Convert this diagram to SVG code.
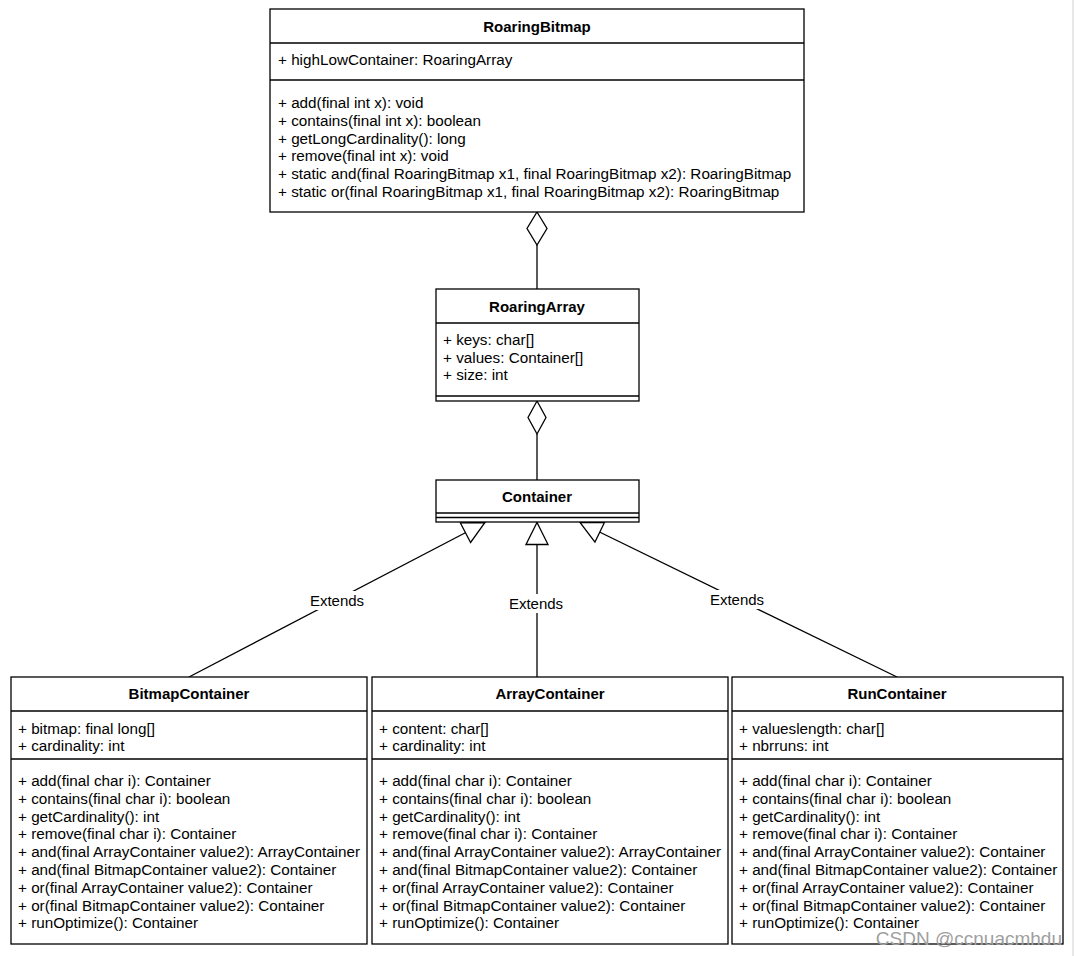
<svg xmlns="http://www.w3.org/2000/svg" width="1075" height="956" viewBox="0 0 1075 956">
<style>
.box{fill:#fff;stroke:#000;stroke-width:1.3}
.sep{stroke:#000;stroke-width:1.3;fill:none}
.t{font-family:"Liberation Sans",Arial,sans-serif;font-size:15.25px;fill:#000}
.b{font-weight:bold;text-anchor:middle;font-size:15px}
.conn{stroke:#000;stroke-width:1.3;fill:none}
.lbl{font-family:"Liberation Sans",Arial,sans-serif;font-size:15px;fill:#000;text-anchor:middle}
</style>
<defs>
<marker id="tri" markerUnits="userSpaceOnUse" markerWidth="26" markerHeight="26" viewBox="0 0 26 26" refX="24" refY="13" orient="auto">
<path d="M2,2 L24,13 L2,24 Z" fill="#fff" stroke="#000" stroke-width="1.3"/>
</marker>
</defs>
<rect width="1075" height="956" fill="#fff"/>
<line x1="1073" y1="0" x2="1073" y2="956" stroke="#d0d0d0" stroke-width="1"/>

<g id="connectors">
<line class="conn" x1="537" y1="245" x2="537" y2="289"/>
<polygon points="537,212 547,228.5 537,245 527,228.5" fill="#fff" stroke="#000" stroke-width="1.3"/>
<line class="conn" x1="537" y1="434" x2="537" y2="480"/>
<polygon points="537,401 546,417.5 537,434 528,417.5" fill="#fff" stroke="#000" stroke-width="1.3"/>
<path class="conn" d="M189,677 L485,522.5" marker-end="url(#tri)"/>
<path class="conn" d="M537,677 L537,522.5" marker-end="url(#tri)"/>
<path class="conn" d="M897,677 L580,522.5" marker-end="url(#tri)"/>
<rect x="308" y="591" width="58" height="19" fill="#fff"/>
<text class="lbl" x="337" y="606">Extends</text>
<rect x="507" y="594" width="58" height="19" fill="#fff"/>
<text class="lbl" x="536" y="609">Extends</text>
<rect x="708" y="590" width="58" height="19" fill="#fff"/>
<text class="lbl" x="737" y="605">Extends</text>
</g>

<g id="RoaringBitmap">
<rect class="box" x="270" y="9" width="534" height="203"/>
<line class="sep" x1="270" y1="43" x2="804" y2="43"/>
<line class="sep" x1="270" y1="80" x2="804" y2="80"/>
<text class="t b" x="537" y="32">RoaringBitmap</text>
<text class="t" x="278" y="65">+ highLowContainer: RoaringArray</text>
<text class="t" x="278" y="108">+ add(final int x): void</text>
<text class="t" x="278" y="126">+ contains(final int x): boolean</text>
<text class="t" x="278" y="144">+ getLongCardinality(): long</text>
<text class="t" x="278" y="161">+ remove(final int x): void</text>
<text class="t" x="278" y="179">+ static and(final RoaringBitmap x1, final RoaringBitmap x2): RoaringBitmap</text>
<text class="t" x="278" y="197">+ static or(final RoaringBitmap x1, final RoaringBitmap x2): RoaringBitmap</text>
</g>

<g id="RoaringArray">
<rect class="box" x="436" y="289" width="203" height="112"/>
<line class="sep" x1="436" y1="323" x2="639" y2="323"/>
<line class="sep" x1="436" y1="396" x2="639" y2="396"/>
<text class="t b" x="537" y="312">RoaringArray</text>
<text class="t" x="443" y="345">+ keys: char[]</text>
<text class="t" x="443" y="363">+ values: Container[]</text>
<text class="t" x="443" y="380">+ size: int</text>
</g>

<g id="Container">
<rect class="box" x="436" y="480" width="203" height="42"/>
<line class="sep" x1="436" y1="513" x2="639" y2="513"/>
<line class="sep" x1="436" y1="517.5" x2="639" y2="517.5"/>
<text class="t b" x="537" y="502">Container</text>
</g>

<g id="BitmapContainer">
<rect class="box" x="11" y="677" width="356" height="267"/>
<line class="sep" x1="11" y1="711" x2="367" y2="711"/>
<line class="sep" x1="11" y1="759" x2="367" y2="759"/>
<text class="t b" x="189" y="699">BitmapContainer</text>
<text class="t" x="18" y="734">+ bitmap: final long[]</text>
<text class="t" x="18" y="751">+ cardinality: int</text>
<text class="t" x="18" y="786">+ add(final char i): Container</text>
<text class="t" x="18" y="804">+ contains(final char i): boolean</text>
<text class="t" x="18" y="822">+ getCardinality(): int</text>
<text class="t" x="18" y="839">+ remove(final char i): Container</text>
<text class="t" x="18" y="857">+ and(final ArrayContainer value2): ArrayContainer</text>
<text class="t" x="18" y="875">+ and(final BitmapContainer value2): Container</text>
<text class="t" x="18" y="893">+ or(final ArrayContainer value2): Container</text>
<text class="t" x="18" y="911">+ or(final BitmapContainer value2): Container</text>
<text class="t" x="18" y="928">+ runOptimize(): Container</text>
</g>

<g id="ArrayContainer">
<rect class="box" x="372" y="677" width="356" height="267"/>
<line class="sep" x1="372" y1="711" x2="728" y2="711"/>
<line class="sep" x1="372" y1="759" x2="728" y2="759"/>
<text class="t b" x="550" y="699">ArrayContainer</text>
<text class="t" x="379" y="734">+ content: char[]</text>
<text class="t" x="379" y="751">+ cardinality: int</text>
<text class="t" x="379" y="786">+ add(final char i): Container</text>
<text class="t" x="379" y="804">+ contains(final char i): boolean</text>
<text class="t" x="379" y="822">+ getCardinality(): int</text>
<text class="t" x="379" y="839">+ remove(final char i): Container</text>
<text class="t" x="379" y="857">+ and(final ArrayContainer value2): ArrayContainer</text>
<text class="t" x="379" y="875">+ and(final BitmapContainer value2): Container</text>
<text class="t" x="379" y="893">+ or(final ArrayContainer value2): Container</text>
<text class="t" x="379" y="911">+ or(final BitmapContainer value2): Container</text>
<text class="t" x="379" y="928">+ runOptimize(): Container</text>
</g>

<g id="RunContainer">
<rect class="box" x="732" y="677" width="331" height="267"/>
<line class="sep" x1="732" y1="711" x2="1063" y2="711"/>
<line class="sep" x1="732" y1="759" x2="1063" y2="759"/>
<text class="t b" x="897" y="699">RunContainer</text>
<text class="t" x="739" y="734">+ valueslength: char[]</text>
<text class="t" x="739" y="751">+ nbrruns: int</text>
<text class="t" x="739" y="786">+ add(final char i): Container</text>
<text class="t" x="739" y="804">+ contains(final char i): boolean</text>
<text class="t" x="739" y="822">+ getCardinality(): int</text>
<text class="t" x="739" y="839">+ remove(final char i): Container</text>
<text class="t" x="739" y="857">+ and(final ArrayContainer value2): Container</text>
<text class="t" x="739" y="875">+ and(final BitmapContainer value2): Container</text>
<text class="t" x="739" y="893">+ or(final ArrayContainer value2): Container</text>
<text class="t" x="739" y="911">+ or(final BitmapContainer value2): Container</text>
<text class="t" x="739" y="928">+ runOptimize(): Container</text>
</g>

<text x="1062" y="945" text-anchor="end" font-family="'Liberation Sans',Arial,sans-serif" font-size="19" fill="#a0a0a0">CSDN @ccnuacmhdu</text>
</svg>
